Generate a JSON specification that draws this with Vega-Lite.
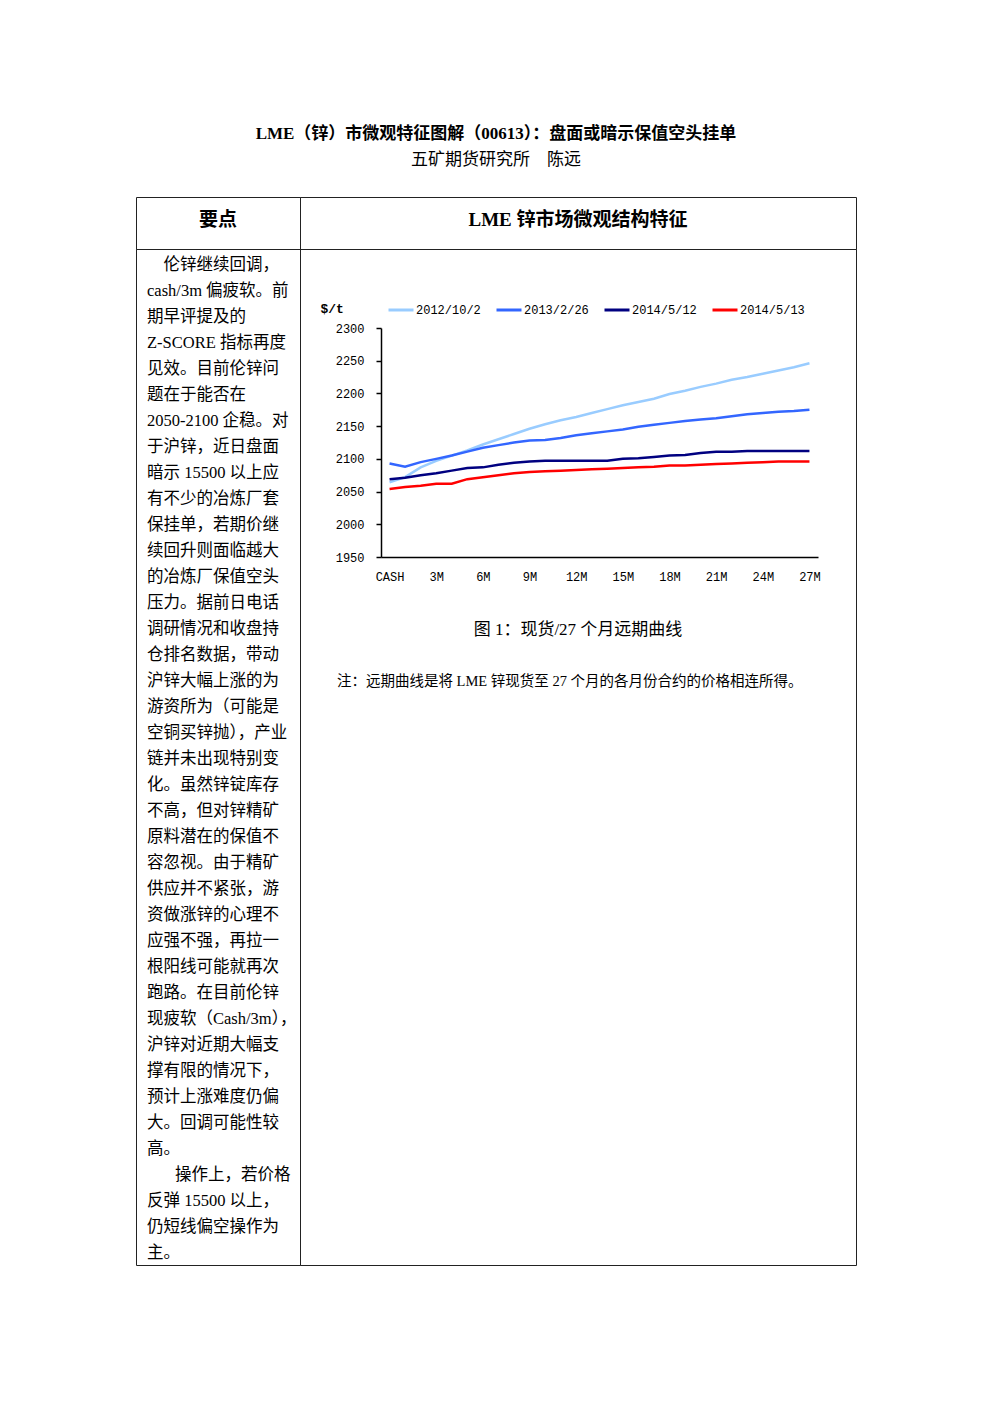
{
  "$schema": "https://vega.github.io/schema/vega-lite/v6.json",
  "padding": {"left": 135, "top": 124, "right": 0, "bottom": 0},
  "background": "white",
  "title": {
    "text": "LME（锌）市微观特征图解（00613）：盘面或暗示保值空头挂单",
    "subtitle": "五矿期货研究所　陈远",
    "anchor": "middle",
    "frame": "bounds",
    "font": "Liberation Serif, Noto Sans CJK SC",
    "fontSize": 17,
    "fontWeight": "bold",
    "color": "#000",
    "subtitleFont": "Liberation Serif, Noto Sans CJK SC",
    "subtitleFontSize": 17,
    "subtitleFontWeight": "normal",
    "subtitleColor": "#000",
    "subtitlePadding": 9,
    "offset": 28
  },
  "datasets": {
    "curves": [
      {"month": 0, "2012/10/2": 2064, "2013/2/26": 2093, "2014/5/12": 2069, "2014/5/13": 2054},
      {"month": 1, "2012/10/2": 2072, "2013/2/26": 2088, "2014/5/12": 2071, "2014/5/13": 2057},
      {"month": 2, "2012/10/2": 2087, "2013/2/26": 2095, "2014/5/12": 2075, "2014/5/13": 2059},
      {"month": 3, "2012/10/2": 2097, "2013/2/26": 2100, "2014/5/12": 2078, "2014/5/13": 2062},
      {"month": 4, "2012/10/2": 2105, "2013/2/26": 2105, "2014/5/12": 2082, "2014/5/13": 2062},
      {"month": 5, "2012/10/2": 2113, "2013/2/26": 2111, "2014/5/12": 2086, "2014/5/13": 2069},
      {"month": 6, "2012/10/2": 2122, "2013/2/26": 2117, "2014/5/12": 2087, "2014/5/13": 2072},
      {"month": 7, "2012/10/2": 2130, "2013/2/26": 2121, "2014/5/12": 2091, "2014/5/13": 2075},
      {"month": 8, "2012/10/2": 2138, "2013/2/26": 2125, "2014/5/12": 2094, "2014/5/13": 2078},
      {"month": 9, "2012/10/2": 2146, "2013/2/26": 2128, "2014/5/12": 2096, "2014/5/13": 2080},
      {"month": 10, "2012/10/2": 2153, "2013/2/26": 2129, "2014/5/12": 2097, "2014/5/13": 2081},
      {"month": 11, "2012/10/2": 2159, "2013/2/26": 2132, "2014/5/12": 2097, "2014/5/13": 2082},
      {"month": 12, "2012/10/2": 2164, "2013/2/26": 2136, "2014/5/12": 2097, "2014/5/13": 2083},
      {"month": 13, "2012/10/2": 2170, "2013/2/26": 2139, "2014/5/12": 2097, "2014/5/13": 2084},
      {"month": 14, "2012/10/2": 2176, "2013/2/26": 2142, "2014/5/12": 2097, "2014/5/13": 2085},
      {"month": 15, "2012/10/2": 2182, "2013/2/26": 2145, "2014/5/12": 2100, "2014/5/13": 2086},
      {"month": 16, "2012/10/2": 2187, "2013/2/26": 2149, "2014/5/12": 2101, "2014/5/13": 2087},
      {"month": 17, "2012/10/2": 2192, "2013/2/26": 2152, "2014/5/12": 2103, "2014/5/13": 2088},
      {"month": 18, "2012/10/2": 2199, "2013/2/26": 2155, "2014/5/12": 2105, "2014/5/13": 2090},
      {"month": 19, "2012/10/2": 2204, "2013/2/26": 2158, "2014/5/12": 2106, "2014/5/13": 2090},
      {"month": 20, "2012/10/2": 2210, "2013/2/26": 2160, "2014/5/12": 2109, "2014/5/13": 2091},
      {"month": 21, "2012/10/2": 2215, "2013/2/26": 2162, "2014/5/12": 2111, "2014/5/13": 2092},
      {"month": 22, "2012/10/2": 2221, "2013/2/26": 2165, "2014/5/12": 2111, "2014/5/13": 2093},
      {"month": 23, "2012/10/2": 2225, "2013/2/26": 2168, "2014/5/12": 2112, "2014/5/13": 2094},
      {"month": 24, "2012/10/2": 2230, "2013/2/26": 2170, "2014/5/12": 2112, "2014/5/13": 2095},
      {"month": 25, "2012/10/2": 2235, "2013/2/26": 2172, "2014/5/12": 2112, "2014/5/13": 2096},
      {"month": 26, "2012/10/2": 2240, "2013/2/26": 2173, "2014/5/12": 2112, "2014/5/13": 2096},
      {"month": 27, "2012/10/2": 2246, "2013/2/26": 2175, "2014/5/12": 2112, "2014/5/13": 2096}
    ],
    "keypoints": [
      {"line": 1, "text": "\u200b\u3000伦锌继续回调，"},
      {"line": 2, "text": "cash/3m 偏疲软。前"},
      {"line": 3, "text": "期早评提及的"},
      {"line": 4, "text": "Z-SCORE 指标再度"},
      {"line": 5, "text": "见效。目前伦锌问"},
      {"line": 6, "text": "题在于能否在"},
      {"line": 7, "text": "2050-2100 企稳。对"},
      {"line": 8, "text": "于沪锌，近日盘面"},
      {"line": 9, "text": "暗示 15500 以上应"},
      {"line": 10, "text": "有不少的冶炼厂套"},
      {"line": 11, "text": "保挂单，若期价继"},
      {"line": 12, "text": "续回升则面临越大"},
      {"line": 13, "text": "的冶炼厂保值空头"},
      {"line": 14, "text": "压力。据前日电话"},
      {"line": 15, "text": "调研情况和收盘持"},
      {"line": 16, "text": "仓排名数据，带动"},
      {"line": 17, "text": "沪锌大幅上涨的为"},
      {"line": 18, "text": "游资所为（可能是"},
      {"line": 19, "text": "空铜买锌抛），产业"},
      {"line": 20, "text": "链并未出现特别变"},
      {"line": 21, "text": "化。虽然锌锭库存"},
      {"line": 22, "text": "不高，但对锌精矿"},
      {"line": 23, "text": "原料潜在的保值不"},
      {"line": 24, "text": "容忽视。由于精矿"},
      {"line": 25, "text": "供应并不紧张，游"},
      {"line": 26, "text": "资做涨锌的心理不"},
      {"line": 27, "text": "应强不强，再拉一"},
      {"line": 28, "text": "根阳线可能就再次"},
      {"line": 29, "text": "跑路。在目前伦锌"},
      {"line": 30, "text": "现疲软（Cash/3m），"},
      {"line": 31, "text": "沪锌对近期大幅支"},
      {"line": 32, "text": "撑有限的情况下，"},
      {"line": 33, "text": "预计上涨难度仍偏"},
      {"line": 34, "text": "大。回调可能性较"},
      {"line": 35, "text": "高。"},
      {"line": 36, "text": "\u200b\u3000\u2002\u2009操作上，若价格"},
      {"line": 37, "text": "反弹 15500 以上，"},
      {"line": 38, "text": "仍短线偏空操作为"},
      {"line": 39, "text": "主。"}
    ]
  },
  "columns": 2,
  "spacing": 0,
  "bounds": "flush",
  "concat": [
    {
      "width": 164,
      "height": 52,
      "data": {"values": [{"label": "要点"}]},
      "mark": {"type": "text", "font": "Liberation Serif, Noto Sans CJK SC", "fontSize": 19, "fontWeight": "bold", "color": "#000", "dy": -3},
      "encoding": {
        "x": {"field": "label", "type": "nominal", "axis": null},
        "y": {"field": "label", "type": "nominal", "axis": null},
        "text": {"field": "label", "type": "nominal"}
      }
    },
    {
      "width": 556,
      "height": 52,
      "data": {"values": [{"label": "LME 锌市场微观结构特征"}]},
      "mark": {"type": "text", "font": "Liberation Serif, Noto Sans CJK SC", "fontSize": 19, "fontWeight": "bold", "color": "#000", "dy": -3},
      "encoding": {
        "x": {"field": "label", "type": "nominal", "axis": null},
        "y": {"field": "label", "type": "nominal", "axis": null},
        "text": {"field": "label", "type": "nominal"}
      }
    },
    {
      "width": 164,
      "height": 1016,
      "data": {"name": "keypoints"},
      "mark": {"type": "text", "font": "Liberation Serif, Noto Sans CJK SC", "fontSize": 16.5, "color": "#000", "align": "left", "baseline": "middle", "x": 11},
      "encoding": {
        "y": {"field": "line", "type": "quantitative", "scale": {"domain": [1, 39], "range": [16, 1004], "nice": false, "zero": false}, "axis": null},
        "text": {"field": "text", "type": "nominal"}
      }
    },
    {
      "width": 556,
      "height": 1016,
      "layer": [
        {
          "data": {"name": "curves"},
          "transform": [
            {"fold": ["2012/10/2", "2013/2/26", "2014/5/12", "2014/5/13"], "as": ["series", "price"]}
          ],
          "mark": {"type": "line", "strokeWidth": 2.5},
          "encoding": {
            "x": {
              "field": "month", "type": "quantitative",
              "scale": {"domain": [-0.55, 27.55], "range": [81, 518], "nice": false, "zero": false},
              "axis": {
                "orient": "bottom", "offset": -708, "title": null,
                "values": [0, 3, 6, 9, 12, 15, 18, 21, 24, 27],
                "labelExpr": "datum.value == 0 ? 'CASH' : datum.value + 'M'",
                "ticks": false, "tickSize": 0, "grid": false,
                "domainColor": "#000", "domainWidth": 1.5,
                "labelFont": "Liberation Mono", "labelFontSize": 12, "labelColor": "#000",
                "labelPadding": 14, "labelFlush": false
              }
            },
            "y": {
              "field": "price", "type": "quantitative",
              "scale": {"domain": [1950, 2300], "range": [308, 79], "nice": false, "zero": false},
              "axis": {
                "orient": "left", "offset": -81, "format": "d",
                "values": [1950, 2000, 2050, 2100, 2150, 2200, 2250, 2300],
                "grid": false, "tickSize": 5, "tickColor": "#000", "tickWidth": 1.5,
                "domainColor": "#000", "domainWidth": 1.5,
                "labelFont": "Liberation Mono", "labelFontSize": 12, "labelColor": "#000",
                "labelPadding": 12,
                "title": "$/t", "titleAngle": 0, "titleX": -61, "titleY": 59,
                "titleAlign": "left", "titleBaseline": "middle",
                "titleFont": "Liberation Mono", "titleFontSize": 13, "titleFontWeight": "bold", "titleColor": "#000"
              }
            },
            "color": {
              "field": "series", "type": "nominal",
              "scale": {"domain": ["2012/10/2", "2013/2/26", "2014/5/12", "2014/5/13"], "range": ["#99ccff", "#3366ff", "#000080", "#ff0000"]},
              "legend": {
                "title": null, "orient": "none", "direction": "horizontal",
                "legendX": 251, "legendY": 99,
                "symbolType": "stroke", "symbolSize": 625, "symbolStrokeWidth": 3,
                "labelFont": "Liberation Mono", "labelFontSize": 12, "labelColor": "#000",
                "labelOffset": 1, "columnPadding": 9
              }
            }
          }
        },
        {
          "data": {"values": [{"caption": "图 1：现货/27 个月远期曲线"}]},
          "mark": {"type": "text", "font": "Liberation Serif, Noto Sans CJK SC", "fontSize": 17, "color": "#000", "y": 381, "baseline": "middle"},
          "encoding": {"text": {"field": "caption", "type": "nominal"}}
        },
        {
          "data": {"values": [{"note": "注：远期曲线是将 LME 锌现货至 27 个月的各月份合约的价格相连所得。"}]},
          "mark": {"type": "text", "font": "Liberation Serif, Noto Sans CJK SC", "fontSize": 14.5, "color": "#000", "x": 37, "y": 433, "align": "left", "baseline": "middle"},
          "encoding": {"text": {"field": "note", "type": "nominal"}}
        }
      ]
    }
  ],
  "config": {
    "view": {"stroke": "#222", "strokeWidth": 1},
    "text": {"color": "#000"}
  }
}
